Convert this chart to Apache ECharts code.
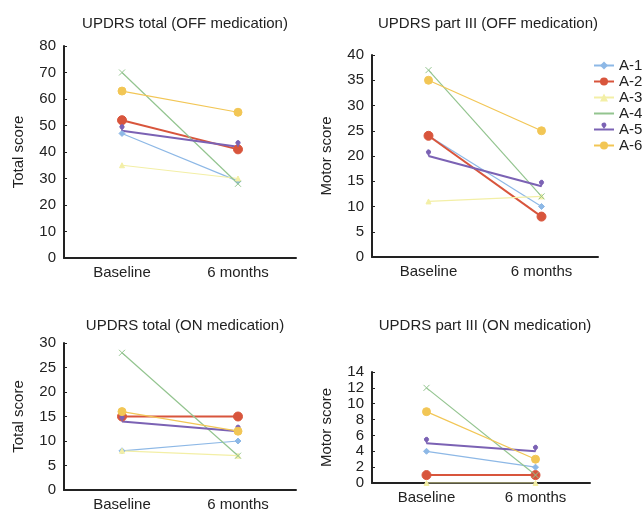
<!DOCTYPE html>
<html>
<head>
<meta charset="utf-8">
<script src="https://cdn.jsdelivr.net/npm/echarts@6/dist/echarts.min.js"></script>
<style>
  html, body { margin: 0; padding: 0; background: #fff; }
  #main { width: 644px; height: 513px; }
</style>
</head>
<body>
<div id="main"></div>
<script>
var times = ['Baseline', '6 months'];
var patients = ['A-1', 'A-2', 'A-3', 'A-4', 'A-5', 'A-6'];
// panel data, one [baseline, 6 months] pair per patient
var totalOff = [[47, 29], [52, 41], [35, 30], [70, 28], [48, 42], [63, 55]];
var motorOff = [[24, 10], [24, 8], [11, 12], [37, 12], [20, 14], [35, 25]];
var totalOn = [[8, 10], [15, 15], [8, 7], [28, 7], [14, 12], [16, 12]];
var motorOn = [[4, 2], [1, 1], [0, 0], [12, 1], [5, 4], [9, 3]];
var titles = ['UPDRS total (OFF medication)', 'UPDRS part III (OFF medication)',
              'UPDRS total (ON medication)', 'UPDRS part III (ON medication)'];
var yNames = ['Total score', 'Motor score', 'Total score', 'Motor score'];
var yMax = [80, 40, 30, 14];
var yStep = [10, 5, 5, 2];

var colors = ['#8db8e6', '#d8553c', '#f3efa6', '#93c48f', '#7b62b4', '#f2c655'];
var symbols = ['diamond', 'circle', 'triangle', 'path://M0,0L10,10M10,0L0,10', 'pin', 'circle'];
var symSize = [6, 9, 5, 6, 7, 8];

var font = 'Liberation Sans, Arial, sans-serif';
var panels = [totalOff, motorOff, totalOn, motorOn];
var grids = [
  {left: 64, top: 46, width: 232, height: 212},
  {left: 372, top: 55, width: 226, height: 202},
  {left: 64, top: 343, width: 232, height: 147},
  {left: 372, top: 372, width: 218, height: 111}
];
var titlePos = [[180, 11], [483, 11], [180, 313], [480, 313]];

var myChart = echarts.init(document.getElementById('main'));
var xAxes = [], yAxes = [], series = [], titleList = [];
for (var p = 0; p < 4; p++) {
  titleList.push({
    text: titles[p], left: titlePos[p][0], top: titlePos[p][1], textAlign: 'center',
    textStyle: {fontSize: 15, fontWeight: 'normal', color: '#222', fontFamily: font}
  });
  xAxes.push({
    type: 'category', gridIndex: p, data: times, boundaryGap: true,
    axisLine: {lineStyle: {color: '#222', width: 2}},
    axisTick: {show: false},
    axisLabel: {color: '#222', fontSize: 15, margin: 7, fontFamily: font},
    splitLine: {show: false}
  });
  yAxes.push({
    type: 'value', gridIndex: p, min: 0, max: yMax[p], interval: yStep[p],
    name: yNames[p], nameLocation: 'middle', nameGap: 38,
    nameTextStyle: {color: '#222', fontSize: 15, fontFamily: font},
    axisLine: {show: true, lineStyle: {color: '#222', width: 2}},
    axisTick: {show: true, inside: true, length: 3, lineStyle: {color: '#222'}},
    axisLabel: {color: '#222', fontSize: 15, margin: 8, fontFamily: font},
    splitLine: {show: false}
  });
  for (var s = 0; s < patients.length; s++) {
    series.push({
      name: patients[s], type: 'line', xAxisIndex: p, yAxisIndex: p,
      data: panels[p][s],
      color: colors[s],
      symbol: symbols[s], symbolSize: symSize[s],
      lineStyle: {width: s === 1 || s === 4 ? 2 : 1.2, color: colors[s]},
      itemStyle: {color: colors[s], borderColor: colors[s]}
    });
  }
}

myChart.setOption({
  animation: false,
  title: titleList,
  legend: {
    data: patients, orient: 'vertical', left: 588, top: 53,
    itemWidth: 20, itemHeight: 10, itemGap: 1,
    textStyle: {fontSize: 15, color: '#222', fontFamily: font}
  },
  grid: grids,
  xAxis: xAxes,
  yAxis: yAxes,
  series: series
});
</script>
</body>
</html>
